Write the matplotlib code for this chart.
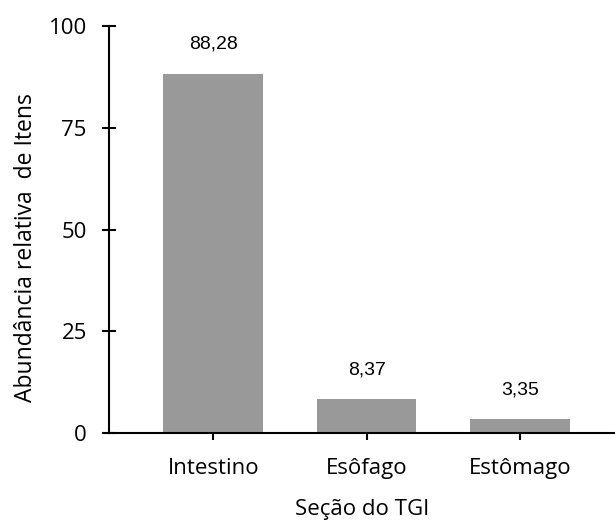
import matplotlib
matplotlib.use("Agg")
import matplotlib.pyplot as plt

categories = ["Intestino", "Esôfago", "Estômago"]
values = [88.28, 8.37, 3.35]
value_labels = ["88,28", "8,37", "3,35"]
y_ticks = [0, 25, 50, 75, 100]

label_font = ["Open Sans", "DejaVu Sans"]
value_font = ["Liberation Sans", "DejaVu Sans"]

fig = plt.figure(figsize=(6.15, 5.23), dpi=100)
ax = fig.add_axes([109 / 615, 1 - 433 / 523, 1 - 109 / 615, (433 - 26) / 523])

x = list(range(len(categories)))
ax.bar(x, values, width=0.65, color="#999999", zorder=2)
for i, (v, lab) in enumerate(zip(values, value_labels)):
    ax.text(i, v + 7.2, lab, ha="center", va="center", fontsize=14,
            family=value_font, color="#000000")

ax.set_xlim(-0.68, 2.62)
ax.set_ylim(0, 100)
ax.set_xticks(x)
ax.set_xticklabels(categories, family=label_font, fontsize=16)
ax.set_yticks(y_ticks)
ax.set_yticklabels([str(t) for t in y_ticks], family=label_font, fontsize=16)

for s in ["top", "right"]:
    ax.spines[s].set_visible(False)
for s in ["left", "bottom"]:
    ax.spines[s].set_linewidth(1.5)
    ax.spines[s].set_zorder(3)

ax.tick_params(axis="y", direction="inout", length=10, width=1.5, pad=11)
ax.tick_params(axis="x", direction="inout", length=10, width=1.5, pad=13)

ax.set_xlabel("Seção do TGI", family=label_font, fontsize=16)
ax.set_ylabel("Abundância relativa  de Itens", family=label_font, fontsize=16.5)
ax.xaxis.set_label_coords(0.5, -0.162)
ax.yaxis.set_label_coords(-0.14, 0.455)

fig.savefig("out.png", dpi=100)
